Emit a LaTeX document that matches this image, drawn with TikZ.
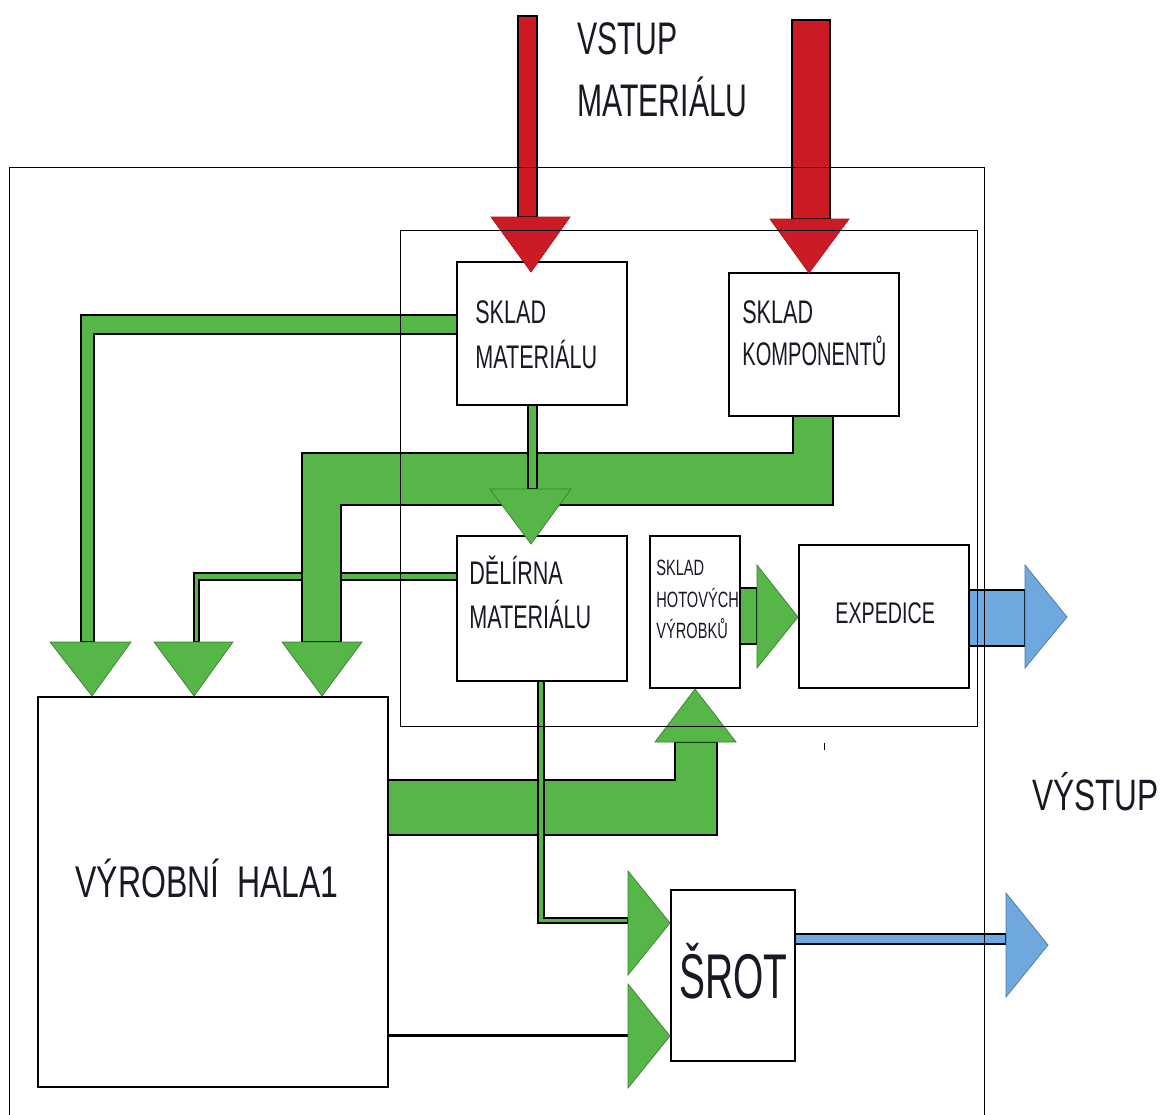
\documentclass[tikz,border=0pt]{standalone}
\usepackage{fontspec}
\setmainfont{Liberation Sans}
\newfontfamily\isofont[FakeStretch=0.66]{Liberation Sans}
\newfontfamily\isonarrow[FakeStretch=0.615]{Liberation Sans}
\newfontfamily\isowide[FakeStretch=0.72]{Liberation Sans}
\usepackage{tikz}
\usetikzlibrary{positioning}

\definecolor{inred}{RGB}{204,27,36}
\definecolor{flowgreen}{RGB}{86,182,72}
\definecolor{outblue}{RGB}{111,168,222}
\definecolor{inktext}{RGB}{25,25,35}

\begin{document}
\begin{tikzpicture}[x=0.02cm, y=-0.02cm, line join=miter,
    box/.style={draw, line width=0.8pt, inner sep=0pt},
    frame/.style={draw, line width=0.55pt},
    lbl/.style={inner sep=0pt, anchor=base west, text=inktext, font=\isofont\fontsize{18.6}{20}\selectfont},
    redshaft/.style={fill=inred, draw=black, line width=0.6pt},
    redhead/.style={fill=inred, draw=inred!80!black, line width=0.4pt},
    greenshaft/.style={fill=flowgreen, draw=black, line width=0.6pt},
    greenhead/.style={fill=flowgreen, draw=flowgreen!70!black, line width=0.4pt},
    blueshaft/.style={fill=outblue, draw=black, line width=0.6pt},
    bluehead/.style={fill=outblue, draw=outblue!70!black, line width=0.4pt}]

    \useasboundingbox (0,0) rectangle (1160,1115);

    % Boxes (x 1 unit = 1 px of the sheet)
    \node[box, minimum width=3.4cm, minimum height=2.86cm] (skladmat) at (542,333.5) {};
    \node[box, minimum width=3.4cm, minimum height=2.86cm] (skladkomp) at (814,344.5) {};
    \node[box, minimum width=3.4cm, minimum height=2.9cm] (delirna) at (542,608.5) {};
    \node[box, minimum width=1.8cm, minimum height=3.04cm] (hotove) at (695,612) {};
    \node[box, minimum width=3.4cm, minimum height=2.86cm] (expedice) at (884,616.5) {};
    \node[box, minimum width=7cm, minimum height=7.8cm] (hala) at (213,892) {};
    \node[box, minimum width=2.48cm, minimum height=3.42cm] (srot) at (733,975.5) {};

    % Box texts
    \node[lbl] (skladmatA) at (475,323) {SKLAD};
    \node[lbl] (skladmatB) at (475,368) {MATERIÁLU};
    \node[lbl] (skladkompA) at (742,323) {SKLAD};
    \node[lbl, font=\isonarrow\fontsize{18.6}{20}\selectfont] (skladkompB) at (742,365) {KOMPONENTŮ};
    \node[lbl] (delirnaA) at (469,584) {DĚLÍRNA};
    \node[lbl] (delirnaB) at (469,628) {MATERIÁLU};
    \node[lbl, font=\isofont\fontsize{12.6}{14}\selectfont] (hotoveA) at (656,575) {SKLAD};
    \node[lbl, font=\isofont\fontsize{12.6}{14}\selectfont] (hotoveB) at (656,607) {HOTOVÝCH};
    \node[lbl, font=\isofont\fontsize{12.6}{14}\selectfont] (hotoveC) at (656,638) {VÝROBKŮ};
    \node[lbl, font=\isofont\fontsize{17}{19}\selectfont] (expediceA) at (835,623) {EXPEDICE};
    \node[lbl, font=\isowide\fontsize{25.3}{27}\selectfont] (halaA) at (75,897) {VÝROBNÍ\ \ HALA1};
    \node[lbl, font=\isonarrow\fontsize{36}{38}\selectfont] (srotA) at (679,998) {ŠROT};

    % Outside labels
    \node[lbl, font=\isofont\fontsize{26}{28}\selectfont] (vstupA) at (577,55) {VSTUP};
    \node[lbl, font=\isofont\fontsize{26}{28}\selectfont] (vstupB) at (577,117) {MATERIÁLU};
    \node[lbl, font=\isowide\fontsize{25}{27}\selectfont] (vystup) at (1032,810) {VÝSTUP};

    % Green flows into the hall
    \draw[greenshaft] (457,315) -- (81,315) -- (81,642) -- (94,642) -- (94,334) -- (457,334) -- cycle;
    \draw[greenhead] (50,642) -- (131,642) -- (92,696) -- cycle;
    \draw[greenshaft] (457,573) -- (194,573) -- (194,642) -- (199,642) -- (199,580) -- (457,580) -- cycle;
    \draw[greenhead] (154,642) -- (233,642) -- (194,696) -- cycle;
    \draw[greenshaft] (833,416) -- (833,505) -- (341,505) -- (341,642) -- (302,642)
        -- (302,453) -- (793,453) -- (793,416) -- cycle;
    \draw[greenhead] (282,642) -- (362,642) -- (322,696) -- cycle;

    % Material store to cutting room
    \draw[greenshaft] (528,405) rectangle (537,489);
    \draw[greenhead] (490,489) -- (571,489) -- (531,544) -- cycle;

    % Hall to finished goods store
    \draw[greenshaft] (388,780) -- (675,780) -- (675,742) -- (717,742) -- (717,835) -- (388,835) -- cycle;
    \draw[greenhead] (655,742) -- (736,742) -- (695,689) -- cycle;

    % Cutting room and hall to scrap
    \draw[greenshaft] (538,681) -- (538,923) -- (628,923) -- (628,918) -- (544,918) -- (544,681) -- cycle;
    \draw[greenhead] (628,871) -- (628,975) -- (670,923) -- cycle;
    \draw[line width=1.7pt] (hala.east |- 0,1035) -- (628,1035);
    \draw[greenhead] (628,984) -- (628,1088) -- (670,1036) -- cycle;

    % Finished goods to dispatch
    \draw[greenshaft] (740,588) rectangle (757,644);
    \draw[greenhead] (757,565) -- (757,668) -- (798,617) -- cycle;

    % Outputs
    \draw[blueshaft] (969,590) rectangle (1025,646);
    \draw[bluehead] (1025,565) -- (1025,668) -- (1067,617) -- cycle;
    \draw[blueshaft] (795,934) rectangle (1006,944);
    \draw[bluehead] (1006,893) -- (1006,997) -- (1048,945) -- cycle;

    % Material input
    \draw[redshaft] (518,16) rectangle (537,217);
    \draw[redhead] (491,217) -- (570,217) -- (531,272) -- cycle;
    \draw[redshaft] (792,20) rectangle (830,219);
    \draw[redhead] (770,219) -- (849,219) -- (809,273) -- cycle;

    % Frames
    \draw[frame] (9,1115) -- (9,167) -- (984,167) -- (984,1115);
    \draw[frame] (400,230) rectangle (977,726);
    \draw[line width=0.5pt] (824,743) -- (824,750);

\end{tikzpicture}
\end{document}
